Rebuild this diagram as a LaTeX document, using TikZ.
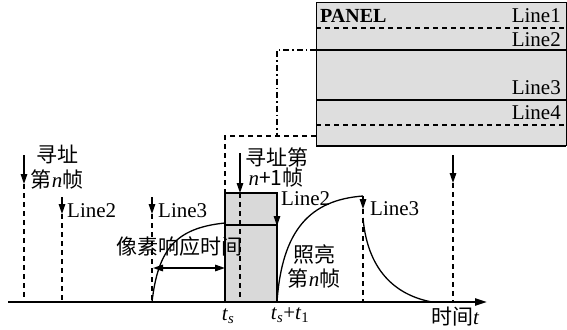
\documentclass[tikz,border=0pt]{standalone}
\usepackage{fontspec}
\setmainfont{Liberation Serif}
\newfontfamily\cjk{Noto Sans CJK SC}
\newcommand{\itv}[1]{{\normalfont\itshape #1}}
\usetikzlibrary{arrows.meta}
\definecolor{panelgray}{HTML}{DEDEDE}
\definecolor{boxgray}{HTML}{D9D9D9}
\tikzset{
  lbl/.style={font=\fontsize{21}{23}\selectfont, inner sep=0pt},
  cj/.style={font=\fontsize{21}{23}\selectfont\cjk, inner sep=0pt},
  tip/.style={-{Triangle[width=6.5pt,length=10pt]}},
  mk/.style={line width=1.4pt, tip},
  dsh/.style={line width=1.5pt, dash pattern=on 5pt off 4pt},
  dashdot/.style={line width=1.4pt, dash pattern=on 6pt off 3pt on 1.5pt off 3pt},
  axisline/.style={line width=2.2pt, -{Triangle[width=7pt,length=12pt]}},
  curve/.style={line width=1.3pt},
}
\begin{document}
\begin{tikzpicture}[x=1pt,y=-1pt]
\useasboundingbox (0,0) rectangle (567,329);

% ---------- panel ----------
\coordinate (pNW) at (316,2);
\coordinate (pSE) at (566,146);
\fill[panelgray] (pNW) rectangle (pSE);
\draw[line width=0.9pt] (316,146) -- (316,2) -- (566,2) -- (566,146);
\draw[line width=2.2pt] (316,146) -- (566,146);
\draw[dsh] (316,28) -- (566,28);
\draw[line width=1.6pt] (316,50) -- (566,50);
\draw[line width=1.1pt] (316,100) -- (566,100);
\draw[dsh] (316,125) -- (566,125);
\node[lbl, font=\fontsize{20}{22}\selectfont\bfseries, anchor=west] (panel) at (320,16) {PANEL};
\node[lbl, anchor=east] (pl1) at (561,16) {Line1};
\node[lbl, anchor=east] (pl2) at (561,40) {Line2};
\node[lbl, anchor=east] (pl3) at (561,88) {Line3};
\node[lbl, anchor=east] (pl4) at (561,113) {Line4};

% ---------- gray box ----------
\coordinate (bNW) at (225,193);
\coordinate (bSE) at (277,302);
\fill[boxgray] (bNW) rectangle (bSE);
\draw[line width=1.1pt] (225,302) -- (225,193) -- (277,193) -- (277,302);
\draw[line width=1.1pt] (225,225) -- (277,225);

% connectors from panel
\coordinate (dd1) at (316,50);
\coordinate (dd2) at (277,50);
\coordinate (dd3) at (277,136);
\draw[dashdot] (dd1) -- (dd2) -- (dd3);
\coordinate (dl1) at (316,136);
\coordinate (dl2) at (225,136);
\draw[dsh] (dl1) -- (dl2) -- (bNW);

% ---------- axis ----------
\coordinate (o) at (8,302);
\coordinate (xe) at (487,302);
\draw[axisline] (o) -- (xe);

% ---------- markers ----------
\coordinate (m1a) at (24,155); \coordinate (m1b) at (24,184); \coordinate (m1c) at (24,302);
\draw[mk] (m1a) -- (m1b);
\draw[dsh] (m1b) -- (m1c);
\coordinate (m2a) at (62,197); \coordinate (m2b) at (62,214); \coordinate (m2c) at (62,302);
\draw[mk] (m2a) -- (m2b);
\draw[dsh] (m2b) -- (m2c);
\coordinate (m3a) at (152,197); \coordinate (m3b) at (152,214); \coordinate (m3c) at (152,302);
\draw[mk] (m3a) -- (m3b);
\draw[dsh] (m3b) -- (m3c);
\coordinate (m4a) at (240,153); \coordinate (m4b) at (240,193); \coordinate (m4c) at (240,302);
\draw[mk] (m4a) -- (m4b);
\draw[dsh] (m4b) -- (m4c);
\coordinate (m5a) at (277,193); \coordinate (m5b) at (277,226);
\draw[mk] (m5a) -- (m5b);
\coordinate (m6a) at (363,196); \coordinate (m6b) at (363,209); \coordinate (m6c) at (363,302);
\draw[mk] (m6a) -- (m6b);
\draw[dsh] (m6b) -- (m6c);
\coordinate (m7a) at (453,155); \coordinate (m7b) at (453,183); \coordinate (m7c) at (453,302);
\draw[mk] (m7a) -- (m7b);
\draw[dsh] (m7b) -- (m7c);

% ---------- curves ----------
\draw[curve] (152,302) .. controls (158,250) and (175,228) .. (225,223);
\draw[curve] (277,302) .. controls (282,230) and (310,200) .. (363,196);
\draw[curve] (363,218) .. controls (368,275) and (400,296) .. (432,302);

% response-time arrow
\coordinate (ra) at (153,268); \coordinate (rb) at (225,268);
\draw[line width=1.6pt, {Triangle[width=6.5pt,length=10pt]}-{Triangle[width=6.5pt,length=10pt]}] (ra) -- (rb);

% ---------- labels ----------
\node[cj] (t1) at (57,154) {寻址};
\node[cj] (t2) at (57,179) {第\itv{n}帧};
\node[lbl, anchor=west] (l2) at (67,211) {Line2};
\node[lbl, anchor=west] (l3) at (158,211) {Line3};
\node[cj] (resp) at (179,247) {像素响应时间};
\node[cj] (t3) at (277,157) {寻址第};
\node[cj] (t4) at (276,178) {\itv{n}+1帧};
\node[lbl, anchor=west] (l2b) at (281,199) {Line2};
\node[cj] (t5) at (314,255) {照亮};
\node[cj] (t6) at (314,278) {第\itv{n}帧};
\node[lbl, anchor=west] (l3b) at (370,209) {Line3};
\node[cj] (tt) at (455,317) {时间\itv{t}};
\node[lbl] (ts) at (228,316) {\textit{t}\textsubscript{\textit{s}}};
\node[lbl] (ts1) at (290,315) {\textit{t}\textsubscript{\textit{s}}+\textit{t}\textsubscript{1}};
\end{tikzpicture}
\end{document}
